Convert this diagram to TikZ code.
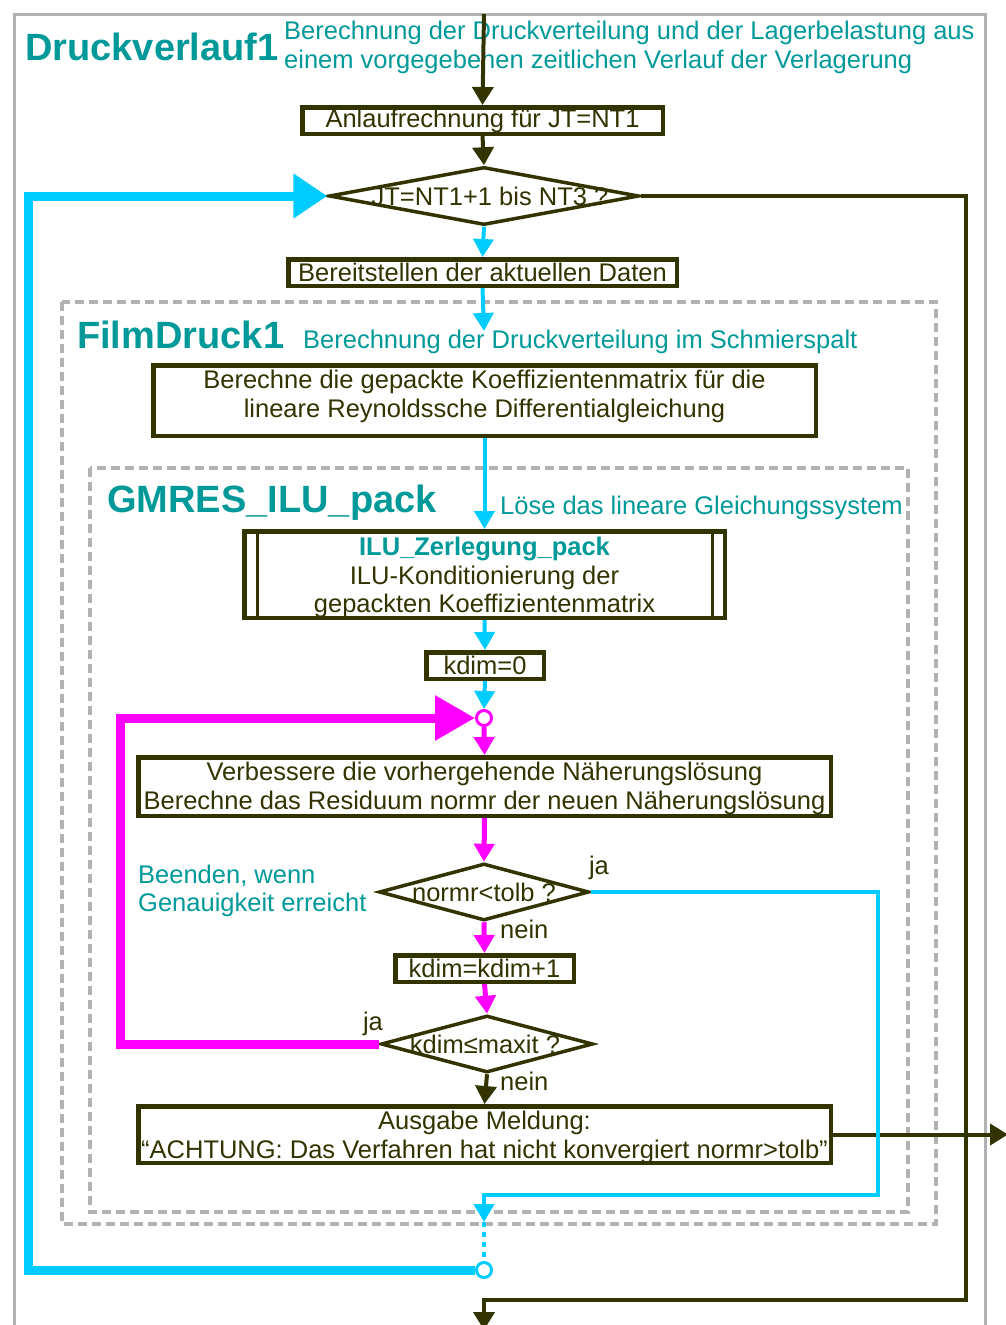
\documentclass[tikz,border=0pt]{standalone}
\usepackage{fontspec}
\setmainfont{Liberation Sans}
\usetikzlibrary{arrows.meta,shapes.geometric}

\definecolor{fcDark}{RGB}{51,51,0}
\definecolor{fcTeal}{RGB}{0,153,153}
\definecolor{fcCyan}{RGB}{0,204,255}
\definecolor{fcPink}{RGB}{255,0,255}
\definecolor{fcGray}{RGB}{178,178,178}

\begin{document}
\begin{tikzpicture}[x=1pt,y=-1pt,
  txt/.style={font=\fontsize{25.5}{28.5}\selectfont, text=fcDark, inner sep=0pt, align=center},
  box/.style={txt, draw=fcDark, line width=4.5pt, fill=white},
  decision/.style={diamond, draw=fcDark, line width=3.5pt, fill=white, inner sep=0pt},
  title/.style={font=\fontsize{38}{40}\selectfont\bfseries, text=fcTeal, inner sep=0pt},
  note/.style={font=\fontsize{25.5}{28.5}\selectfont, text=fcTeal, inner sep=0pt, align=left},
  frame/.style={draw=fcGray, line width=3pt},
  group/.style={draw=fcGray, line width=4pt, dash pattern=on 9pt off 5pt},
  dkline/.style={draw=fcDark, line width=4pt},
  dkflow/.style={dkline, -{Triangle[width=21pt,length=18pt]}},
  cyflow/.style={draw=fcCyan, line width=4pt, -{Triangle[width=20pt,length=18pt]}},
  cyloop/.style={draw=fcCyan, line width=9pt, -{Triangle[width=43pt,length=34pt]}},
  pkflow/.style={draw=fcPink, line width=5pt, -{Triangle[width=20pt,length=18pt]}},
  pkloop/.style={draw=fcPink, line width=9pt, -{Triangle[width=43pt,length=40pt]}},
  junction/.style={circle, line width=3pt, fill=white, minimum size=15pt, inner sep=0pt},
]
\useasboundingbox (0,0) rectangle (1006,1325);
\fill[white] (0,0) rectangle (1006,1325);

% outer frame of the routine and the two nested sub-routines
\draw[frame] (14,1340) -- (14,14) -- (985,14) -- (985,1340);
\draw[group] (62,302) rectangle (936,1224);
\draw[group] (90,468) rectangle (908,1212);

% headings
\node[title, anchor=base west] (tDruck) at (25,60) {Druckverlauf1};
\node[note, anchor=west] (nDruck) at (284,47.5)
  {Berechnung der Druckverteilung und der Lagerbelastung aus\\einem vorgegebenen zeitlichen Verlauf der Verlagerung};
\node[title, anchor=base west] (tFilm) at (77,348) {FilmDruck1};
\node[note, anchor=base west] (nFilm) at (303,348) {Berechnung der Druckverteilung im Schmierspalt};
\node[title, anchor=base west] (tGmres) at (107,512) {GMRES\_ILU\_pack};
\node[note, anchor=base west] (nGmres) at (500,514) {Löse das lineare Gleichungssystem};
\node[note, anchor=west] (nStop) at (138,891) {Beenden, wenn\\Genauigkeit erreicht};

% process steps
\node[box, minimum width=360.5pt, minimum height=26.5pt] (b1) at (482.5,120.5) {Anlaufrechnung für JT=NT1};
\node[decision, minimum width=310pt, minimum height=58pt] (d1) at (484,196) {};
\node[txt] (d1t) at (490,196) {JT=NT1+1 bis NT3 ?};
\node[box, minimum width=388.5pt, minimum height=26.5pt] (b2) at (482.5,272.5) {Bereitstellen der aktuellen Daten};
\node[box, minimum width=662.5pt, minimum height=70.5pt] (b3) at (484.5,400.5) {};
\node[txt] (b3t) at (484.5,396.5)
  {Berechne die gepackte Koeffizientenmatrix für die\\lineare Reynoldssche Differentialgleichung};
\node[box, minimum width=480.5pt, minimum height=86.5pt] (ilu) at (484.5,574.5) {};
\node[txt] (ilut) at (484.5,577.5)
  {\textcolor{fcTeal}{\bfseries ILU\_Zerlegung\_pack}\\ILU-Konditionierung der\\gepackten Koeffizientenmatrix};
\draw[fcDark, line width=3pt] ([xshift=15pt]ilu.north west) -- ([xshift=15pt]ilu.south west);
\draw[fcDark, line width=3pt] ([xshift=-15pt]ilu.north east) -- ([xshift=-15pt]ilu.south east);
\node[box, minimum width=117.5pt, minimum height=26.5pt] (k0) at (485,665.5) {kdim=0};
\node[junction, draw=fcPink] (jp) at (484,718) {};
\node[box, minimum width=692.5pt, minimum height=58.5pt] (b4) at (484.5,786.5) {};
\node[txt] (b4t) at (484.5,788.5)
  {Verbessere die vorhergehende Näherungslösung\\Berechne das Residuum normr der neuen Näherungslösung};
\node[decision, minimum width=210pt, minimum height=57pt] (d2) at (484,892) {};
\node[txt] (d2t) at (484,892) {normr<tolb ?};
\node[box, minimum width=178.5pt, minimum height=26.5pt] (b5) at (484.5,968.5) {kdim=kdim+1};
\node[decision, minimum width=212pt, minimum height=57pt] (d3) at (487,1044) {};
\node[txt] (d3t) at (485,1044) {kdim≤maxit ?};
\node[box, minimum width=692.5pt, minimum height=56.5pt] (b6) at (484.5,1134.5) {};
\node[txt] (b6t) at (484.5,1137.5)
  {Ausgabe Meldung:\\“ACHTUNG: Das Verfahren hat nicht konvergiert normr>tolb”};
\node[junction, draw=fcCyan] (jc) at (484,1270) {};

% branch labels
\node[txt] (ja1) at (599,868) {ja};
\node[txt, anchor=west] (nein1) at (500,929) {nein};
\node[txt] (ja2) at (373,1024) {ja};
\node[txt, anchor=west] (nein2) at (500,1081) {nein};

% free ends of connectors
\coordinate (cIn) at (484,14);
\coordinate (cExitR) at (966,1300);
\coordinate (cExitB) at (484,1330);
\coordinate (cFilm) at (484,331);
\coordinate (cOk) at (878,1195);
\coordinate (cOkEnd) at (484,1222);
\coordinate (cLoopL) at (28,196);
\coordinate (cIterL) at (120,1044);
\coordinate (cOut) at (1008,1134.5);

% outer loop over time steps
\draw[dkflow] (cIn) -- (b1.north);
\draw[dkflow] (b1.south) -- (d1.north);
\draw[dkflow] (d1.east) -| (cExitR) -| (cExitB);
\draw[cyflow] (d1.south) -- (b2.north);
\draw[cyflow] (b2.south) -- (cFilm);
\draw[cyflow] (b3.south) -- (ilu.north);
\draw[cyflow] (ilu.south) -- (k0.north);
\draw[cyflow] (k0.south) -- (jp.north);

% GMRES iteration
\draw[pkflow] (jp.south) -- (b4.north);
\draw[pkflow] (b4.south) -- (d2.north);
\draw[pkflow] (d2.south) -- (b5.north);
\draw[pkflow] (b5.south) -- (d3.north);
\draw[dkflow] (d3.south) -- (b6.north);
\draw[pkloop] (d3.west) -- (cIterL) |- (jp.west);
\draw[dkflow] (b6.east) -- (cOut);

% converged branch and return to the time loop
\draw[cyflow] (d2.east) -| (cOk) -| (cOkEnd);
\draw[fcCyan, line width=4pt, dash pattern=on 5pt off 5pt] (cOkEnd) -- (jc.north);
\draw[cyloop] (jc.west) -| (cLoopL) -- (d1.west);
\end{tikzpicture}
\end{document}
